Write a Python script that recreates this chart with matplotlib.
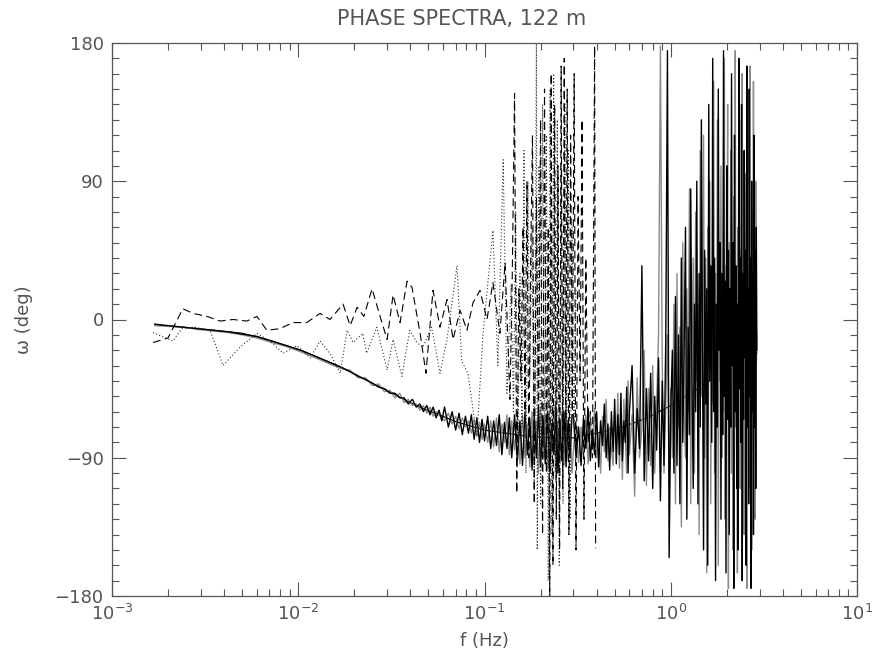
import numpy as np
import matplotlib
matplotlib.use("Agg")
import matplotlib.pyplot as plt
from matplotlib.ticker import LogLocator, MultipleLocator, NullFormatter

# ---- data (frequency in Hz, phase in deg) ----
# smooth model curve
f_model = [0.0017, 0.0024, 0.0035, 0.005, 0.0072, 0.0103, 0.0148, 0.019, 0.025, 0.031,
           0.039, 0.047, 0.057, 0.07, 0.085, 0.1, 0.13, 0.17, 0.22, 0.3, 0.4, 0.55,
           0.75, 1.0, 1.4, 2.0, 2.9]
ph_model = [-3.5, -5, -7, -9, -14, -20, -28, -34, -41.5, -47, -53.5, -58, -62, -66.5,
            -69.5, -72, -74, -76, -77, -77, -74, -70, -64, -56, -45, -32, -22]

# measured spectra (black and gray solid) - low band
f_lo = [0.0017, 0.0020, 0.0024, 0.0029, 0.0035, 0.0042, 0.0050, 0.0060, 0.0072, 0.0086,
        0.0103, 0.0124, 0.0148,
        0.017, 0.019, 0.021, 0.023, 0.025, 0.027, 0.029, 0.031, 0.033, 0.035, 0.037,
        0.039, 0.041, 0.043, 0.045, 0.047, 0.049, 0.051, 0.053, 0.055, 0.057, 0.059,
        0.061, 0.064, 0.067, 0.070, 0.073, 0.076, 0.079, 0.082, 0.085, 0.088, 0.091,
        0.094, 0.097, 0.100,
        0.104, 0.108, 0.112, 0.116, 0.120, 0.124, 0.128, 0.132, 0.136, 0.140,
        0.145, 0.150, 0.155, 0.160, 0.165, 0.170, 0.175, 0.180, 0.185, 0.190, 0.195, 0.200,
        0.206, 0.212, 0.218, 0.224, 0.230, 0.236, 0.242, 0.248, 0.254, 0.260,
        0.267, 0.274, 0.281, 0.288, 0.295]
ph_black_lo = [-3, -4, -5, -6, -7, -8, -9.5, -11, -14, -17, -20, -24, -28,
               -31, -34, -37, -39, -41.5, -44, -45, -48, -48, -51, -51, -55, -52, -57,
               -55, -60, -56, -62, -57, -64, -59, -66,
               -57, -70, -60, -72, -61, -75, -63, -74, -62, -78, -64, -80, -65, -79,
               -63, -84, -66, -82, -62, -88, -67, -84, -64, -90,
               -62, -92, -66, -95, -60, -88, -64, -98, -62, -90, -58, -96,
               -64, -94, -60, -99, -68, -88, -57, -100, -66, -92,
               -60, -96, -66, -90, -62]
ph_gray_lo = [-4, -4.5, -5, -6.5, -7.5, -8.5, -10, -12, -15, -17.5, -21, -25, -29,
              -32, -33, -38, -38, -43, -42, -47, -46, -51, -48, -54, -52, -56, -55,
              -59, -56, -61, -57, -63, -60, -62, -64,
              -66, -61, -68, -63, -71, -64, -70, -66, -74, -65, -76, -67, -78, -68,
              -80, -66, -83, -64, -86, -68, -80, -62, -88, -66,
              -85, -64, -94, -62, -90, -68, -96, -60, -92, -66, -100, -58,
              -90, -62, -98, -64, -86, -56, -104, -66, -90, -60,
              -95, -58, -92, -68, -100]

# measured spectra - high band (noisy part)
f_hi = [0.30, 0.31, 0.32, 0.33, 0.34, 0.35, 0.36, 0.37, 0.38, 0.39, 0.40, 0.41, 0.42,
        0.43, 0.44, 0.45, 0.46, 0.47, 0.48, 0.49, 0.50, 0.51, 0.52, 0.53, 0.54, 0.55,
        0.56, 0.57, 0.58, 0.59, 0.60,
        0.62, 0.64, 0.66, 0.68, 0.70, 0.72, 0.74, 0.76, 0.78, 0.80, 0.82, 0.84, 0.86,
        0.88, 0.90, 0.92, 0.94, 0.96, 0.98, 1.00, 1.02, 1.04, 1.06, 1.08, 1.10, 1.12,
        1.14, 1.16, 1.18,
        1.20, 1.22, 1.24, 1.26, 1.28, 1.30, 1.32, 1.34, 1.36, 1.38,
        1.40, 1.42, 1.44, 1.46, 1.48, 1.50, 1.52, 1.54, 1.56, 1.58,
        1.60, 1.62, 1.64, 1.66, 1.68, 1.70, 1.72, 1.74, 1.76, 1.78,
        1.80, 1.82, 1.84, 1.86, 1.88, 1.90, 1.92, 1.94, 1.96, 1.98,
        2.00, 2.02, 2.04, 2.06, 2.08, 2.10, 2.12, 2.14, 2.16, 2.18,
        2.20, 2.22, 2.24, 2.26, 2.28, 2.30, 2.32, 2.34, 2.36, 2.38,
        2.40, 2.42, 2.44, 2.46, 2.48, 2.50, 2.52, 2.54, 2.56, 2.58,
        2.60, 2.62, 2.64, 2.66, 2.68, 2.70, 2.72, 2.74, 2.76, 2.78,
        2.80, 2.82, 2.84, 2.86, 2.88, 2.90]
ph_black_hi = [-62, -90, -70, -95, -64, -84, -58, -92, -72, -88, -60, -96, -66, -82,
               -55, -90, -68, -98, -60, -86, -52, -94, -62, -88, -48, -92, -66, -80,
               -44, -100, -60,
               -30, -100, -58, -84, 35, -105, -45, -92, -35, -110, -50, -85, -25, -118,
               -40, -95, -15, 175, -155, -60, -20, -100, 15, -95, -10, -120, 40, -80, -20,
               60, -130, -5, -75, 85, -40, -110, 10, -60, 90,
               -120, 30, -70, 130, -20, -150, 45, -55, 20, -160,
               140, -40, 35, -80, 170, -60, 40, -170, 10, -70,
               150, -20, 50, -130, 30, -75, 175, -50, 25, -165,
               100, -65, 45, -140, 20, -70, 160, -30, 50, -175,
               120, -60, 35, -110, 10, -150, 170, -45, 40, -80,
               140, -170, 30, -65, 110, -25, 45, -160, 165, -70,
               20, -120, 150, -50, 40, -175, 90, -60, 30, -140,
               120, -70, 45, -110, 60, -20]
ph_gray_hi = [-85, -66, -93, -70, -86, -62, -94, -68, -80, -58, -90, -74, -100, -63,
              -86, -52, -92, -70, -84, -95, -60, -82, -48, -97, -65, -104, -52, -76,
              -100, -40, -88,
              -62, -115, -38, -90, -70, -20, -108, -45, -95, -30, -100, -55, -10, 178,
              -30, -100, -55, -10, -110, -45, -90, 10, -120, 30, -70, -5, -135, 50, -60,
              -90, 20, -60, 85, -120, -15, 40, -100, 70, -40,
              10, -140, 110, -50, -5, 120, -90, 40, -165, 60,
              -30, 90, -120, 15, -55, 155, -100, 30, -70, 130,
              -160, 45, -40, 100, -90, 20, -60, 170, -130, 35,
              -50, 140, -175, 50, -20, 110, -100, 40, -150, 80,
              -45, 175, -70, 25, -165, 60, -30, 130, -110, 45,
              -55, 160, -90, 10, -140, 95, -35, 50, -175, 120,
              -65, 30, -110, 165, -40, 20, -150, 70, -85, 155,
              -50, 40, -130, 90, -30, -10]

# dashed spectrum
f_dash = [0.00166, 0.0020, 0.0024, 0.00272, 0.00324, 0.0038, 0.00446, 0.0053, 0.0060,
          0.00678, 0.00797, 0.00935, 0.0111, 0.0131, 0.0148, 0.0174, 0.0190, 0.0207,
          0.0225, 0.0249, 0.0275, 0.0300, 0.0323, 0.0352, 0.0384, 0.0408, 0.0451,
          0.0485, 0.0529, 0.0577, 0.0629, 0.0678, 0.0739, 0.0805, 0.0868, 0.0946,
          0.1031, 0.111, 0.121, 0.129, 0.137,
          0.141, 0.145, 0.149, 0.153, 0.157, 0.161, 0.165, 0.169, 0.173, 0.177, 0.181,
          0.185, 0.190, 0.195, 0.200, 0.205, 0.210, 0.215, 0.220, 0.224, 0.228, 0.233,
          0.238, 0.243, 0.248, 0.253, 0.258, 0.263, 0.268, 0.273, 0.278, 0.284, 0.290,
          0.296, 0.303, 0.310, 0.318, 0.326, 0.334, 0.342, 0.350, 0.360, 0.370, 0.380,
          0.390, 0.395]
ph_dash = [-15, -12, 7, 4, 2, -1, 0, -1, 2, -7, -6, -2, -2, 4, 0, 10, -4, 8, 2, 20, 2,
           -13, 16, -2, 25, 21, -9, -35, 19, -5, 13, -13, 6, -7, 11, 19, 0, 24, -9, 37, -52,
           30, 147, -113, 20, -40, 60, -60, 90, -90, 40, 120, -120, 80, -70, 130, -140,
           150, -100, 60, -180, 160, -160, 140, -130, 100, -150, 165, -110, 170, -90,
           150, -140, 120, -60, 160, -150, 80, -40, 130, -130, 40, -80, -60, -90, 178, -149]

# dotted spectrum
f_dot = [0.00166, 0.00212, 0.00237, 0.00279, 0.00336, 0.00395, 0.00486, 0.0060, 0.00705,
         0.00829, 0.00984, 0.0116, 0.0131, 0.0148, 0.0168, 0.0183, 0.0197, 0.0222, 0.0233,
         0.0264, 0.0300, 0.0323, 0.0360, 0.0397, 0.0434, 0.0467, 0.0520, 0.0577, 0.0629,
         0.0712, 0.0754, 0.0814, 0.0911, 0.0982, 0.111, 0.118, 0.126, 0.132, 0.139,
         0.143, 0.147, 0.151, 0.155, 0.159, 0.163, 0.167, 0.171, 0.175, 0.180, 0.185,
         0.190, 0.192, 0.196, 0.200, 0.205, 0.210, 0.215, 0.220, 0.225, 0.230, 0.235,
         0.240, 0.246, 0.252, 0.258, 0.264, 0.270, 0.276, 0.282, 0.288, 0.295, 0.302, 0.310]
ph_dot = [-8.5, -14, -6, -5, -7, -30, -18, -9, -14, -22, -17, -25, -14, -22, -35, -7,
          -15, -9, -22, -5, -33, -13, -37, -7, -15, -18, -5, -35, -13, 35, -27, -35, -76,
          -9, 58, -30, 104, -48, 23,
          -60, 70, -90, 30, -70, 110, -100, 90, -40, 60, -110, 180, -150, 100, -120, 140,
          -90, 120, -170, 150, -140, 160, -100, 130, -160, 100, -120, 140, -80, 110, -130,
          60, -70, 20]

yticks = [-180, -90, 0, 90, 180]
ytick_labels = ['\u2212180', '\u221290', '0', '90', '180']

plt.rcParams['font.family'] = ['DejaVu Sans']
plt.rcParams['mathtext.default'] = 'regular'

txt = '#555555'
fig = plt.figure(figsize=(8.76, 6.53), dpi=100)
ax = fig.add_axes([112/876, 57/653, 745/876, 553/653])

ax.plot(f_model, ph_model, color='black', lw=0.9)
ax.plot(f_lo + f_hi, ph_gray_lo + ph_gray_hi, color='#8a8a8a', lw=1.0)
ax.plot(f_lo + f_hi, ph_black_lo + ph_black_hi, color='black', lw=1.0)
ax.plot(f_dot, ph_dot, color='#333333', lw=0.8, linestyle=(0, (1, 2)))
ax.plot(f_dash, ph_dash, color='black', lw=0.8, linestyle=(0, (7, 4)))

ax.set_xscale('log')
ax.set_xlim(1e-3, 1e1)
ax.set_ylim(-180, 180)
ax.set_yticks(yticks)
ax.set_yticklabels(ytick_labels)
ax.yaxis.set_minor_locator(MultipleLocator(10))
ax.xaxis.set_major_locator(LogLocator(10, numticks=10))
ax.xaxis.set_minor_locator(LogLocator(10, subs=np.arange(2, 10), numticks=20))
ax.xaxis.set_minor_formatter(NullFormatter())

for s in ax.spines.values():
    s.set_color('#555555')
    s.set_linewidth(0.9)
ax.tick_params(which='both', direction='in', top=True, right=True,
               color='#555555', width=0.8)
ax.tick_params(which='major', length=10, labelsize=13, labelcolor=txt, pad=6)
ax.tick_params(which='minor', length=5)

ax.set_xlabel('f (Hz)', fontsize=13, color=txt)
ax.xaxis.set_label_coords(0.5, -0.066)
ax.set_ylabel('\u03c9 (deg)', fontsize=13, color=txt)
ax.yaxis.set_label_coords(-0.106, 0.5)
fig.text(462/876, 1 - 19/653, 'PHASE SPECTRA, 122 m', ha='center', va='center',
         fontsize=15, color=txt)

fig.savefig('out.png', dpi=100)
